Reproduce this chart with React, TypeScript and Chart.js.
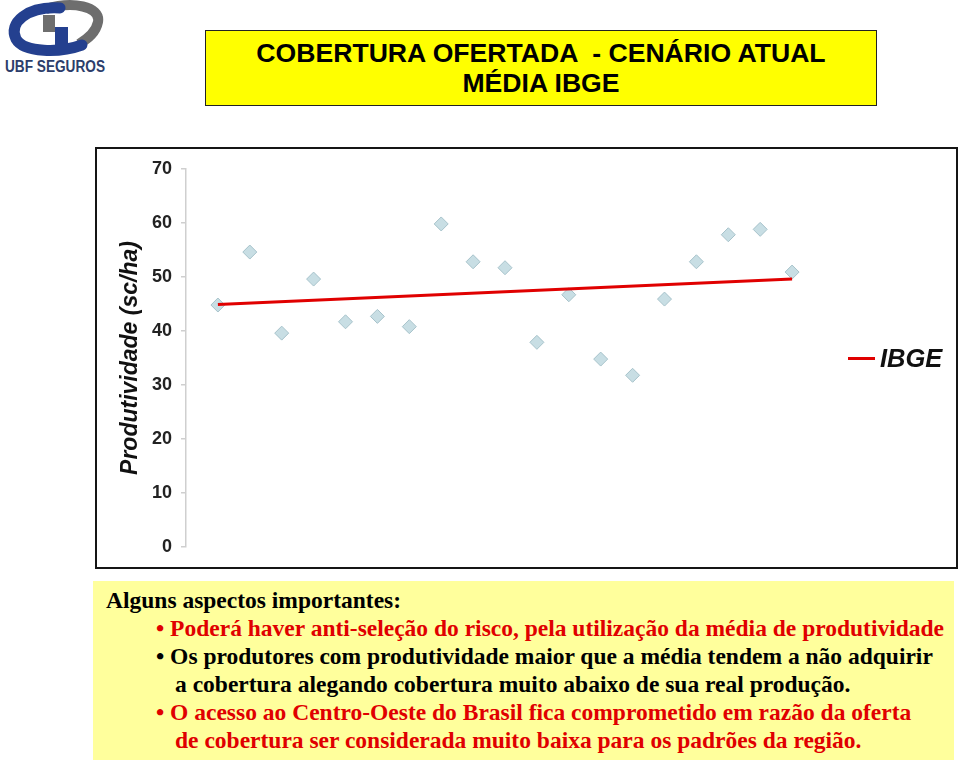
import React, { useEffect, useRef } from "react";
import { Chart, registerables } from "chart.js";

Chart.register(...registerables);

// ---- data ----
const xIndex = [1, 2, 3, 4, 5, 6, 7, 8, 9, 10, 11, 12, 13, 14, 15, 16, 17, 18, 19];
const productivity = [44.8, 54.6, 39.6, 49.6, 41.7, 42.7, 40.8, 59.8, 52.8, 51.7, 37.9, 46.7, 34.8, 31.8, 45.9, 52.8, 57.8, 58.8, 50.9];
const trendX = [1, 19];
const trendY = [44.9, 49.6];
const yTicks = [0, 10, 20, 30, 40, 50, 60, 70];
const seriesLabel = "Produtividade";
const trendLabel = "IBGE";
const yTitle = "Produtividade (sc/ha)";
const titleLines = ["COBERTURA OFERTADA  - CENÁRIO ATUAL", "MÉDIA IBGE"];

const SANS = 'Arial, "Liberation Sans", sans-serif';
const SERIF = '"Times New Roman", "Liberation Serif", serif';
const RED = "#e00000";

function ChartBox() {
  const ref = useRef<HTMLCanvasElement | null>(null);
  useEffect(() => {
    if (!ref.current) return;
    const chart = new Chart(ref.current, {
      type: "scatter",
      data: {
        datasets: [
          {
            type: "line",
            label: trendLabel,
            data: trendX.map((x, i) => ({ x, y: trendY[i] })),
            borderColor: RED,
            borderWidth: 3,
            pointRadius: 0,
            fill: false,
            order: 0,
          } as any,
          {
            type: "scatter",
            label: seriesLabel,
            data: xIndex.map((x, i) => ({ x, y: productivity[i] })),
            pointStyle: "rectRot",
            pointRadius: 7,
            pointHoverRadius: 7,
            backgroundColor: "#c8dee4",
            borderColor: "#a6c2ca",
            borderWidth: 1,
            order: 1,
          } as any,
        ],
      },
      options: {
        animation: false,
        responsive: false,
        layout: { padding: { left: 14, top: 17, right: 132, bottom: 16 } },
        plugins: { legend: { display: false }, tooltip: { enabled: false } },
        scales: {
          x: { type: "linear", min: 0, max: 20, display: false },
          y: {
            min: 0,
            max: 70,
            afterBuildTicks: (s: any) => {
              s.ticks = yTicks.map((v) => ({ value: v }));
            },
            afterFit: (s: any) => {
              s.width = 75;
            },
            ticks: {
              color: "#222",
              padding: 9,
              font: { family: SANS, size: 18, weight: "bold" },
            },
            grid: { drawOnChartArea: false, drawTicks: true, tickLength: 5, color: "#cfcfcf", lineWidth: 1.5 },
            border: { display: true, color: "#cfcfcf", width: 1.5 },
            title: {
              display: true,
              text: yTitle,
              color: "#111",
              padding: { top: 6, bottom: 4 },
              font: { family: SANS, size: 23, weight: "bold", style: "italic" },
            },
          } as any,
        },
      },
    });
    return () => chart.destroy();
  }, []);
  return <canvas ref={ref} width={859} height={418} style={{ width: 859, height: 418, display: "block" }} />;
}

function Logo() {
  return (
    <svg width={110} height={76} viewBox="0 0 110 76" style={{ position: "absolute", left: 0, top: 0 }}>
      <path d="M46 9 C 72 1, 101 6, 98 22 C 96 32, 89 38, 79 44" stroke="#6e6e6e" strokeWidth={10} fill="none" />
      <rect x={43} y={15} width={12} height={17} fill="#6e6e6e" />
      <path d="M60 8 C 27 6, 8 23, 16 39 C 24 53, 60 53, 82 45" stroke="#24408f" strokeWidth={11} fill="none" strokeLinecap="round" />
      <rect x={55} y={27} width={13} height={19} fill="#24408f" />
      <text x={5} y={72} fontFamily={SANS} fontWeight="bold" fontSize={16} fill="#2c3d6b" textLength={100} lengthAdjust="spacingAndGlyphs">
        UBF SEGUROS
      </text>
    </svg>
  );
}

export default function App() {
  const line = (top: number): React.CSSProperties => ({ position: "absolute", top, whiteSpace: "nowrap" });
  return (
    <div style={{ position: "absolute", left: 0, top: 0, width: 960, height: 764, background: "#fff", overflow: "hidden" }}>
      <Logo />
      <div
        style={{
          position: "absolute",
          left: 205,
          top: 30,
          width: 670,
          height: 74,
          background: "#ffff00",
          border: "1px solid #222",
        }}
      />
      <div
        style={{
          position: "absolute",
          left: 205,
          top: 38,
          width: 672,
          textAlign: "center",
          fontFamily: SANS,
          fontWeight: "bold",
          fontSize: 26.6,
          lineHeight: "30px",
          color: "#000",
        }}
      >
        {titleLines.map((t) => (
          <div key={t} style={{ whiteSpace: "pre" }}>{t}</div>
        ))}
      </div>

      <div
        style={{
          position: "absolute",
          left: 95,
          top: 147,
          width: 859,
          height: 418,
          border: "2px solid #151515",
          background: "#fff",
        }}
      >
        <ChartBox />
        <div style={{ position: "absolute", left: 751, top: 208, width: 27, height: 3, background: RED }} />
        <div
          style={{
            position: "absolute",
            left: 783,
            top: 194,
            fontFamily: SANS,
            fontWeight: "bold",
            fontStyle: "italic",
            fontSize: 25.5,
            lineHeight: "30px",
            color: "#111",
          }}
        >
          {trendLabel}
        </div>
      </div>

      <div style={{ position: "absolute", left: 93, top: 581, width: 861, height: 179, background: "#ffff9c" }} />
      <div
        style={{
          position: "absolute",
          left: 0,
          top: 586,
          width: 960,
          fontFamily: SERIF,
          fontWeight: "bold",
          fontSize: 23.5,
          lineHeight: "28px",
        }}
      >
        <div style={{ ...line(0), left: 106, color: "#000" }}>Alguns aspectos importantes:</div>
        <div style={{ ...line(28), left: 156, color: RED }}>• Poderá haver anti-seleção do risco, pela utilização da média de produtividade</div>
        <div style={{ ...line(56), left: 156, color: "#000" }}>• Os produtores com produtividade maior que a média tendem a não adquirir</div>
        <div style={{ ...line(84), left: 175, color: "#000" }}>a cobertura alegando cobertura muito abaixo de sua real produção.</div>
        <div style={{ ...line(112), left: 156, color: RED }}>• O acesso ao Centro-Oeste do Brasil fica comprometido em razão da oferta</div>
        <div style={{ ...line(140), left: 175, color: RED }}>de cobertura ser considerada muito baixa para os padrões da região.</div>
      </div>
    </div>
  );
}
